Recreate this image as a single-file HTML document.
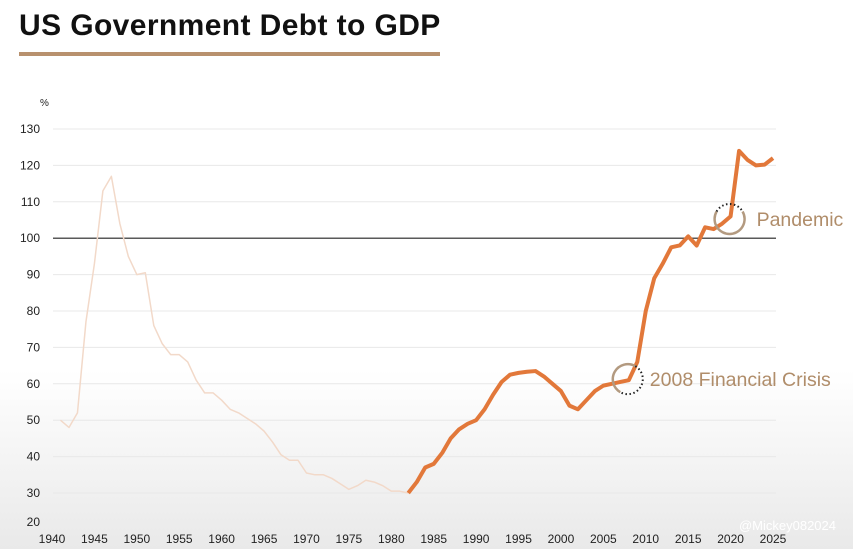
<!DOCTYPE html>
<html><head><meta charset="utf-8"><style>
html,body{margin:0;padding:0;}
body{width:853px;height:549px;overflow:hidden;background:linear-gradient(#fff 0,#fff 370px,#e9e9e9 549px);font-family:"Liberation Sans",sans-serif;position:relative;}
#title{position:absolute;left:19px;top:9px;font-size:30px;font-weight:bold;letter-spacing:0.4px;color:#111;white-space:nowrap;}
#rule{position:absolute;left:19px;top:52px;width:421px;height:4px;background:#b8916e;}
svg{position:absolute;left:0;top:0;}
</style></head><body>
<div id="title">US Government Debt to GDP</div>
<div id="rule"></div>
<svg id="chart" width="853" height="549"></svg>
<script>
const yTicks=[20,30,40,50,60,70,80,90,100,110,120,130];
const xTicks=[1940,1945,1950,1955,1960,1965,1970,1975,1980,1985,1990,1995,2000,2005,2010,2015,2020,2025];
const histYears=[1941,1942,1943,1944,1945,1946,1947,1948,1949,1950,1951,1952,1953,1954,1955,1956,1957,1958,1959,1960,1961,1962,1963,1964,1965,1966,1967,1968,1969,1970,1971,1972,1973,1974,1975,1976,1977,1978,1979,1980,1981,1982];
const histValues=[50,48,52,77,93,113,117,104,95,90,90.5,76,71,68,68,66,61,57.5,57.5,55.5,53,52,50.5,49,47,44,40.5,39,39,35.5,35,35,34,32.5,31,32,33.5,33,32,30.5,30.5,30];
const recentYears=[1982,1983,1984,1985,1986,1987,1988,1989,1990,1991,1992,1993,1994,1995,1996,1997,1998,1999,2000,2001,2002,2003,2004,2005,2006,2007,2008,2009,2010,2011,2012,2013,2014,2015,2016,2017,2018,2019,2020,2021,2022,2023,2024,2025];
const recentValues=[30,33,37,38,41,45,47.5,49,50,53,57,60.5,62.5,63,63.3,63.5,62,60,58,54,53,55.5,58,59.5,60,60.5,61,66,80,89,93,97.5,98,100.5,98,103,102.5,104,106,124,121.5,120,120.2,122];
const annotations=[{year:2008,value:61,label:"2008 Financial Crisis",a0:-60,a1:120,dx:22},{year:2020,value:105,label:"Pandemic",a0:-150,a1:-30,dx:27}];

const NS="http://www.w3.org/2000/svg";
const svg=document.getElementById('chart');
const x=y=>52+(y-1940)*(721/85);
const yv=v=>493-(v-30)*3.64;
function mk(t,a,p){const e=document.createElementNS(NS,t);for(const k in a)e.setAttribute(k,a[k]);(p||svg).appendChild(e);return e;}
function arc(cx,cy,r,a0,a1){const rad=d=>d*Math.PI/180;const p=a=>(cx+r*Math.cos(rad(a)))+' '+(cy+r*Math.sin(rad(a)));return 'M'+p(a0)+' A'+r+' '+r+' 0 '+((a1-a0)>180?1:0)+' 1 '+p(a1);}

yTicks.forEach(v=>{
  if(v>20){const g=mk('line',{x1:53,x2:776,y1:yv(v),y2:yv(v),stroke:v===100?'#222':'#e8e8e8','stroke-width':v===100?1.2:1});
  
  }
  const t=mk('text',{x:40,y:(v===20?522:yv(v))+4,'text-anchor':'end','font-size':12,fill:'#222'});
  t.textContent=v;
  
  
});
const pc=mk('text',{x:40,y:106,'font-size':10,fill:'#222'});pc.textContent='%';


xTicks.forEach(v=>{
  const t=mk('text',{x:x(v),y:543,'text-anchor':'middle','font-size':12,fill:'#222'});
  t.textContent=v;
  
  
});
const p1=mk('polyline',{points:histYears.map((d,i)=>x(d)+','+yv(histValues[i])).join(' '),fill:'none',stroke:'#f2d9c9','stroke-width':1.5,'stroke-linejoin':'round'});


const p2=mk('polyline',{points:recentYears.map((d,i)=>x(d)+','+yv(recentValues[i])).join(' '),fill:'none',stroke:'#e2783a','stroke-width':4,'stroke-linejoin':'round'});


annotations.forEach((a,i)=>{
  const cx=x(a.year)-1,cy=yv(a.value)-1,r=15;
  const c1=mk('path',{d:arc(cx,cy,r,a.a1,a.a0+360),fill:'none',stroke:'#b39a80','stroke-width':2.5});
  
  
  const c2=mk('path',{d:arc(cx,cy,r,a.a0,a.a1),fill:'none',stroke:'#222','stroke-width':2,'stroke-dasharray':'1.5 2.5'});
  
  
  const t=mk('text',{x:cx+a.dx,y:cy+7,'font-size':19.5,fill:'#b08d6a'});
  t.textContent=a.label;
  
  
});
const w=mk('text',{x:836,y:530,'text-anchor':'end','font-size':13,fill:'#fff'});w.textContent='@Mickey082024';


</script>
</body></html>
